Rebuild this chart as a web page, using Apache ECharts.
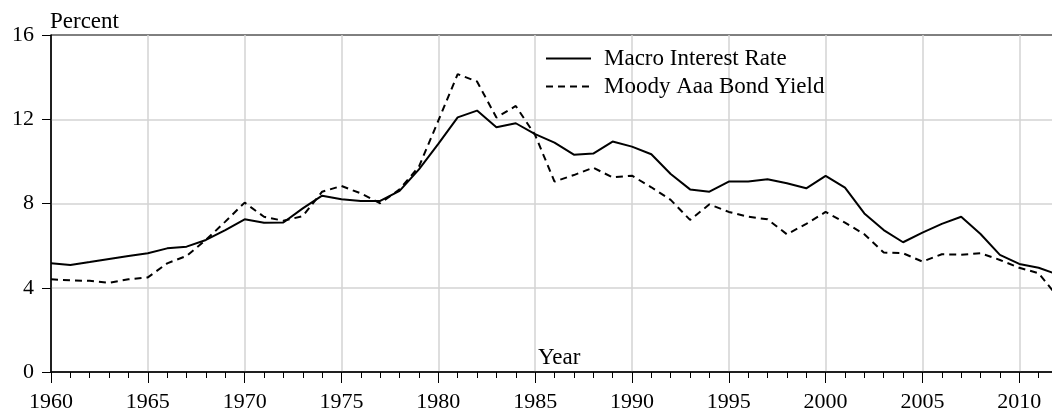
<!DOCTYPE html>
<html>
<head>
<meta charset="utf-8">
<script src="https://cdn.jsdelivr.net/npm/echarts@6/dist/echarts.min.js"></script>
<style>
  html, body { margin: 0; padding: 0; background: #fff; }
  #chart { width: 1052px; height: 412px; }
</style>
</head>
<body>
<div id="chart"></div>
<script>
const years = [
  1960, 1961, 1962, 1963, 1964, 1965, 1966, 1967, 1968, 1969,
  1970, 1971, 1972, 1973, 1974, 1975, 1976, 1977, 1978, 1979,
  1980, 1981, 1982, 1983, 1984, 1985, 1986, 1987, 1988, 1989,
  1990, 1991, 1992, 1993, 1994, 1995, 1996, 1997, 1998, 1999,
  2000, 2001, 2002, 2003, 2004, 2005, 2006, 2007, 2008, 2009,
  2010, 2011, 2012
];
const macroRate = [
  5.16, 5.08, 5.22, 5.37, 5.51, 5.64, 5.87, 5.95, 6.27, 6.74,
  7.25, 7.09, 7.10, 7.77, 8.37, 8.20, 8.12, 8.12, 8.60, 9.62,
  10.83, 12.09, 12.41, 11.62, 11.81, 11.29, 10.89, 10.32, 10.37, 10.94,
  10.70, 10.34, 9.40, 8.67, 8.56, 9.04, 9.04, 9.15, 8.96, 8.72,
  9.31, 8.75, 7.53, 6.74, 6.16, 6.62, 7.03, 7.37, 6.55, 5.56,
  5.13, 4.95, 4.62
];
const moodyAaa = [
  4.40, 4.35, 4.33, 4.24, 4.40, 4.49, 5.16, 5.51, 6.27, 7.14,
  8.04, 7.37, 7.18, 7.40, 8.56, 8.83, 8.48, 8.01, 8.67, 9.75,
  11.93, 14.14, 13.79, 12.08, 12.63, 11.25, 9.04, 9.35, 9.70, 9.24,
  9.32, 8.77, 8.17, 7.22, 7.96, 7.60, 7.37, 7.25, 6.54, 7.03,
  7.60, 7.09, 6.54, 5.67, 5.64, 5.24, 5.59, 5.57, 5.64, 5.32,
  4.95, 4.69, 3.55
];
const yTicks = [0, 4, 8, 12, 16];

const font = "Liberation Serif";
const chart = echarts.init(document.getElementById("chart"));

const option = {
  animation: false,
  textStyle: { fontFamily: font },
  grid: {
    left: 51,
    top: 35,
    right: -6, // 2012 sits just past the right edge of the canvas
    bottom: 40,
    outerBoundsMode: "none",
    containLabel: false,
    show: true,
    borderColor: "#000",
    borderWidth: 1,
  },
  legend: {
    orient: "vertical",
    left: 545,
    top: 47,
    padding: 0,
    itemWidth: 45,
    itemHeight: 14,
    itemGap: 5,
    itemStyle: { opacity: 0 },
    textStyle: {
      fontFamily: font,
      fontSize: 23,
      color: "#000",
      padding: [0, 0, 0, 8],
    },
    data: ["Macro Interest Rate", "Moody Aaa Bond Yield"],
  },
  graphic: [
    {
      type: "text",
      left: 50,
      top: 10,
      style: { text: "Percent", font: "23px " + font, fill: "#000" },
    },
    {
      type: "text",
      left: 538,
      top: 346,
      style: { text: "Year", font: "23px " + font, fill: "#000" },
    },
  ],
  xAxis: {
    type: "value",
    min: 1960,
    max: 2012,
    interval: 5,
    axisLine: { show: true, lineStyle: { color: "#000", width: 1.5 } },
    axisTick: { show: true, length: 11, lineStyle: { color: "#000", width: 1 } },
    minorTick: { show: true, splitNumber: 5, length: 6, lineStyle: { color: "#000", width: 1 } },
    axisLabel: {
      color: "#000",
      fontSize: 22,
      fontFamily: font,
      margin: 19,
      formatter: (v) => (v % 5 === 0 ? String(v) : ""),
    },
    splitLine: { show: true, showMinLine: false, showMaxLine: false, lineStyle: { color: "#d3d3d3", width: 1.5 } },
  },
  yAxis: {
    type: "value",
    min: yTicks[0],
    max: yTicks[yTicks.length - 1],
    interval: 4,
    axisLine: { show: true, lineStyle: { color: "#000", width: 1.5 } },
    axisTick: { show: true, length: 9, lineStyle: { color: "#000", width: 1 } },
    axisLabel: { color: "#000", fontSize: 22, fontFamily: font, margin: 17 },
    splitLine: { show: true, showMinLine: false, showMaxLine: false, lineStyle: { color: "#d3d3d3", width: 1.5 } },
  },
  series: [
    {
      name: "Macro Interest Rate",
      type: "line",
      symbol: "none",
      clip: true,
      lineStyle: { color: "#000", width: 2 },
      itemStyle: { color: "#000" },
      data: years.map((y, i) => [y, macroRate[i]]),
    },
    {
      name: "Moody Aaa Bond Yield",
      type: "line",
      symbol: "none",
      clip: true,
      lineStyle: { color: "#000", width: 2, type: [7, 5] },
      itemStyle: { color: "#000" },
      data: years.map((y, i) => [y, moodyAaa[i]]),
    },
  ],
};
chart.setOption(option);
</script>
</body>
</html>
